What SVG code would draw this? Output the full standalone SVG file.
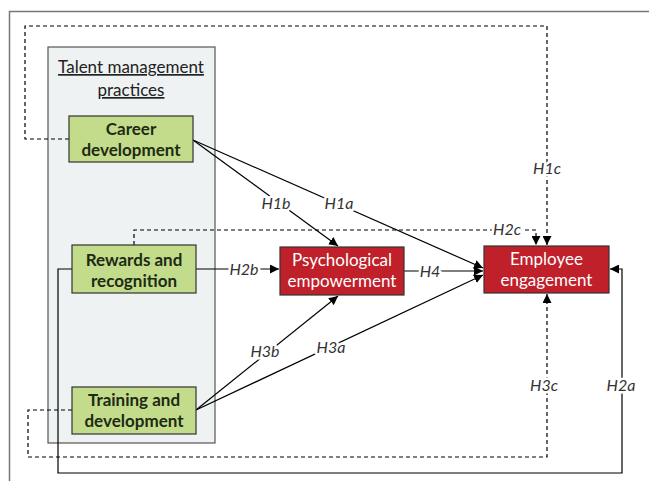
<svg xmlns="http://www.w3.org/2000/svg" width="649" height="481" viewBox="0 0 649 481">
<defs>
<marker id="ah" viewBox="0 0 10 10" refX="10" refY="5" markerWidth="9" markerHeight="9" markerUnits="userSpaceOnUse" orient="auto"><path d="M0,0 L10,5 L0,10 z" fill="#000"/></marker>
<style>
.frame{fill:none;stroke:#777;stroke-width:1.5}
.group{fill:#eef2f3;stroke:#555;stroke-width:1.2}
.green{fill:#c3dc8b;stroke:#333;stroke-width:1.2}
.red{fill:#c0202a;stroke:#333;stroke-width:1.2}
.gt{font-family:Lato,"Open Sans",sans-serif;font-weight:bold;font-size:17px;fill:#1e2a14;text-anchor:middle}
.rt{font-family:Lato,"Open Sans",sans-serif;font-size:17px;fill:#fff;text-anchor:middle}
.tt{font-family:Lato,"Open Sans",sans-serif;font-size:17px;fill:#222;text-anchor:middle;text-decoration:underline}
.lab{font-family:Lato,"Open Sans",sans-serif;font-style:italic;font-size:16px;fill:#333;text-anchor:middle;stroke:#fff;stroke-width:5;paint-order:stroke;stroke-linejoin:round}
.s{fill:none;stroke:#000;stroke-width:1.2}
.d{fill:none;stroke:#000;stroke-width:1.2;stroke-dasharray:4,3}
</style>
</defs>
<rect class="frame" x="9.5" y="11.5" width="660" height="480"/>
<g id="talent">
<rect class="group" x="48" y="47" width="167" height="396"/>
<text class="tt" x="131" y="73">Talent management</text>
<text class="tt" x="131" y="96"> practices</text>
</g>
<g id="connectors">
<path class="d" d="M69,139 H25 V26 H547 V245" marker-end="url(#ah)"/>
<path class="d" d="M134,245 V230 H536 V245" marker-end="url(#ah)"/>
<path class="d" d="M72,410 H28 V457 H547 V294" marker-end="url(#ah)"/>
<path class="s" d="M72,269 H58 V473 H622 V269 H610" marker-end="url(#ah)"/>
<path class="s" d="M193,140 L338,246" marker-end="url(#ah)"/>
<path class="s" d="M193,140 L483,268" marker-end="url(#ah)"/>
<path class="s" d="M196,269 H279" marker-end="url(#ah)"/>
<path class="s" d="M404,271 H483" marker-end="url(#ah)"/>
<path class="s" d="M196,410 L338,296" marker-end="url(#ah)"/>
<path class="s" d="M196,410 L483,275" marker-end="url(#ah)"/>
<text class="lab" x="547" y="174">H1c</text>
<text class="lab" x="276" y="209">H1b</text>
<text class="lab" x="339" y="209">H1a</text>
<text class="lab" x="507" y="235">H2c</text>
<text class="lab" x="244" y="275">H2b</text>
<text class="lab" x="430" y="277">H4</text>
<text class="lab" x="265" y="357">H3b</text>
<text class="lab" x="331" y="353">H3a</text>
<text class="lab" x="544" y="391">H3c</text>
<text class="lab" x="621" y="391">H2a</text>
</g>
<g id="career">
<rect class="green" x="69" y="116" width="124" height="46"/>
<text class="gt" x="131" y="135">Career</text>
<text class="gt" x="131" y="156">development</text>
</g>
<g id="rewards">
<rect class="green" x="72" y="245" width="124" height="48"/>
<text class="gt" x="134" y="266">Rewards and</text>
<text class="gt" x="134" y="287">recognition</text>
</g>
<g id="training">
<rect class="green" x="72" y="387" width="124" height="47"/>
<text class="gt" x="134" y="406">Training and</text>
<text class="gt" x="134" y="427">development</text>
</g>
<g id="psych">
<rect class="red" x="280" y="247" width="124" height="48"/>
<text class="rt" x="342" y="266">Psychological</text>
<text class="rt" x="342" y="287">empowerment</text>
</g>
<g id="engagement">
<rect class="red" x="484" y="246" width="125" height="47"/>
<text class="rt" x="546.5" y="265">Employee</text>
<text class="rt" x="546.5" y="286">engagement</text>
</g>
</svg>
